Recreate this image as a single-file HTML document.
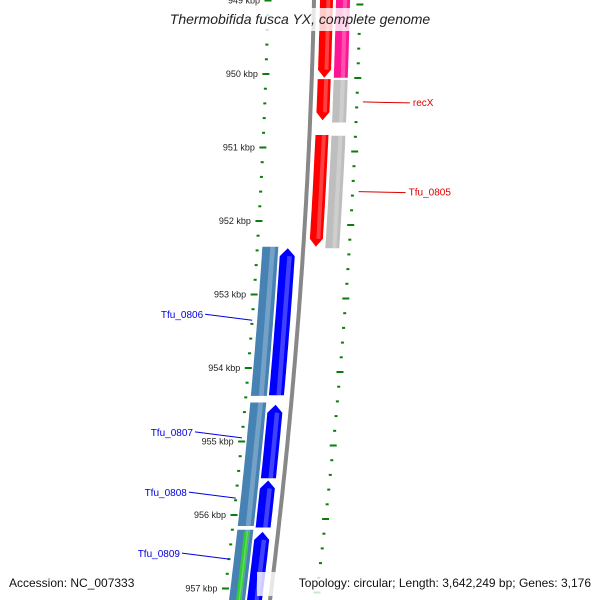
<!DOCTYPE html>
<html><head><meta charset="utf-8"><style>
body{margin:0;background:#fff}
svg{display:block;font-family:"Liberation Sans","DejaVu Sans",sans-serif}
</style></head><body>
<svg id="c" width="600" height="600"></svg>
<script>
const tickKbp=[949,950,951,952,953,954,955,956,957];
const fwdGenes=[[948.9,950.05],[950.07,950.63],[950.83,952.35]];
const fwdColors=['#ff0000','#ff0000','#ff0000'];
const fwdCog=[[948.9,950.05],[950.08,950.66],[950.84,952.37]];
const fwdCogColors=['#ff1493','#bebebe','#bebebe'];
const revGenes=[[952.37,954.37],[954.5,955.5],[955.53,956.17],[956.23,957.3]];
const revCog=[[952.35,954.38],[954.47,956.15],[956.2,957.3]];
const greenCog=[[956.22,957.2]];
const labels=[['recX',950.38,'#e00000',1],['Tfu_0805',951.6,'#e00000',1],['Tfu_0806',953.35,'#0000e0',-1],['Tfu_0807',954.95,'#0000e0',-1],['Tfu_0808',955.77,'#0000e0',-1],['Tfu_0809',956.6,'#0000e0',-1]];
const NS='http://www.w3.org/2000/svg',svg=document.getElementById('c');
function Y(k){return 74+(k-950)*73.5;}
function bx(y){return 314-0.0221*y-8.53e-5*y*y;}
function X(y,o){return bx(y)+o;}
function el(t,a,p){const e=document.createElementNS(NS,t);for(const k in a)e.setAttribute(k,a[k]);(p||svg).appendChild(e);return e;}
// backbone
let d='';for(let y=-5;y<=605;y+=5)d+=(d?'L':'M')+X(y,0).toFixed(1)+','+y;
const bb=el('path',{d:d,stroke:'#888',fill:'none','stroke-width':4});

function band(k1,k2,o1,o2,col,arrow,name){
  const y1=Y(k1),y2=Y(k2),pts=[];
  const ah=8;
  let ya=y1,yb=y2;
  if(arrow==='down')yb=y2-ah; if(arrow==='up')ya=y1+ah;
  for(let y=ya;y<=yb;y+=4)pts.push([X(y,o2),y]);
  pts.push([X(yb,o2),yb]);
  if(arrow==='down')pts.push([X(y2,(o1+o2)/2),y2]);
  for(let y=yb;y>=ya;y-=4)pts.push([X(y,o1),y]);
  pts.push([X(ya,o1),ya]);
  if(arrow==='up')pts.push([X(y1,(o1+o2)/2),y1]);
  const p=el('polygon',{points:pts.map(q=>q[0].toFixed(1)+','+q[1].toFixed(1)).join(' '),fill:col});
  
  // highlight stripe
  const s=el('line',{x1:X(ya,o1+(o2-o1)*0.65),y1:ya,x2:X(yb,o1+(o2-o1)*0.65),y2:yb,stroke:'rgba(255,255,255,0.25)','stroke-width':(o2-o1)*0.3});
  
}
fwdGenes.forEach((g,i)=>band(g[0],g[1],6,19,fwdColors[i],'down','forward-gene'));
fwdCog.forEach((g,i)=>band(g[0],g[1],22,36,fwdCogColors[i],null,'forward-cog-gene'));
revGenes.forEach(g=>band(g[0],g[1],-23,-8,'#0000ff','up','reverse-gene'));
revCog.forEach(g=>band(g[0],g[1],-41,-25,'#4682b4',null,'reverse-cog-gene'));
greenCog.forEach(g=>band(g[0],g[1],-34,-29,'#32cd32',null,'green-cog-gene'));
// ticks
for(let k=948.8;k<=957.5;k+=0.2){
  const kk=Math.round(k*10)/10,y=Y(kk),major=Math.abs(kk-Math.round(kk))<0.01;
  const w=major?7:3;
  const t1=el('line',{x1:X(y,-46)-w/2,y1:y,x2:X(y,-46)+w/2,y2:y,stroke:'#0a7d0a','stroke-width':2});
  
  const y2=y+4;
  const t2=el('line',{x1:X(y2,46)-w/2,y1:y2,x2:X(y2,46)+w/2,y2:y2,stroke:'#0a7d0a','stroke-width':2});
  
}
tickKbp.forEach(k=>{const y=Y(k);
  const t=el('text',{x:X(y,-54),y:y+3,'font-size':9,'text-anchor':'end',fill:'#222'});t.textContent=k+' kbp';
  });
labels.forEach(l=>{const y=Y(l[1]);
  if(l[3]>0){const x0=X(y,52);
    const ln=el('line',{x1:x0,y1:y,x2:x0+47,y2:y+1,stroke:l[2]});
    const t=el('text',{x:x0+50,y:y+4,'font-size':10,fill:l[2]});t.textContent=l[0];}
  else{const x0=X(y,-46);
    const ln=el('line',{x1:x0,y1:y,x2:x0-47,y2:y-6,stroke:l[2]});
    const t=el('text',{x:x0-49,y:y-2,'font-size':10,fill:l[2],'text-anchor':'end'});t.textContent=l[0];}
});
// title & footer
const tb=el('rect',{x:156,y:8,width:290,height:23,fill:'rgba(255,255,255,0.8)'});
const tt=el('text',{x:300,y:24,'font-size':14,'font-style':'italic','text-anchor':'middle',fill:'#222'});tt.textContent='Thermobifida fusca YX, complete genome';

const ab=el('rect',{x:4,y:572,width:150,height:20,fill:'rgba(255,255,255,0.8)'});
const at=el('text',{x:9,y:587,'font-size':12,fill:'#111'});at.textContent='Accession: NC_007333';
const fb=el('rect',{x:257,y:572,width:338,height:24,fill:'rgba(255,255,255,0.8)'});
const ft=el('text',{x:591,y:587,'font-size':12,fill:'#111','text-anchor':'end'});ft.textContent='Topology: circular; Length: 3,642,249 bp; Genes: 3,176';
</script>
</body></html>
